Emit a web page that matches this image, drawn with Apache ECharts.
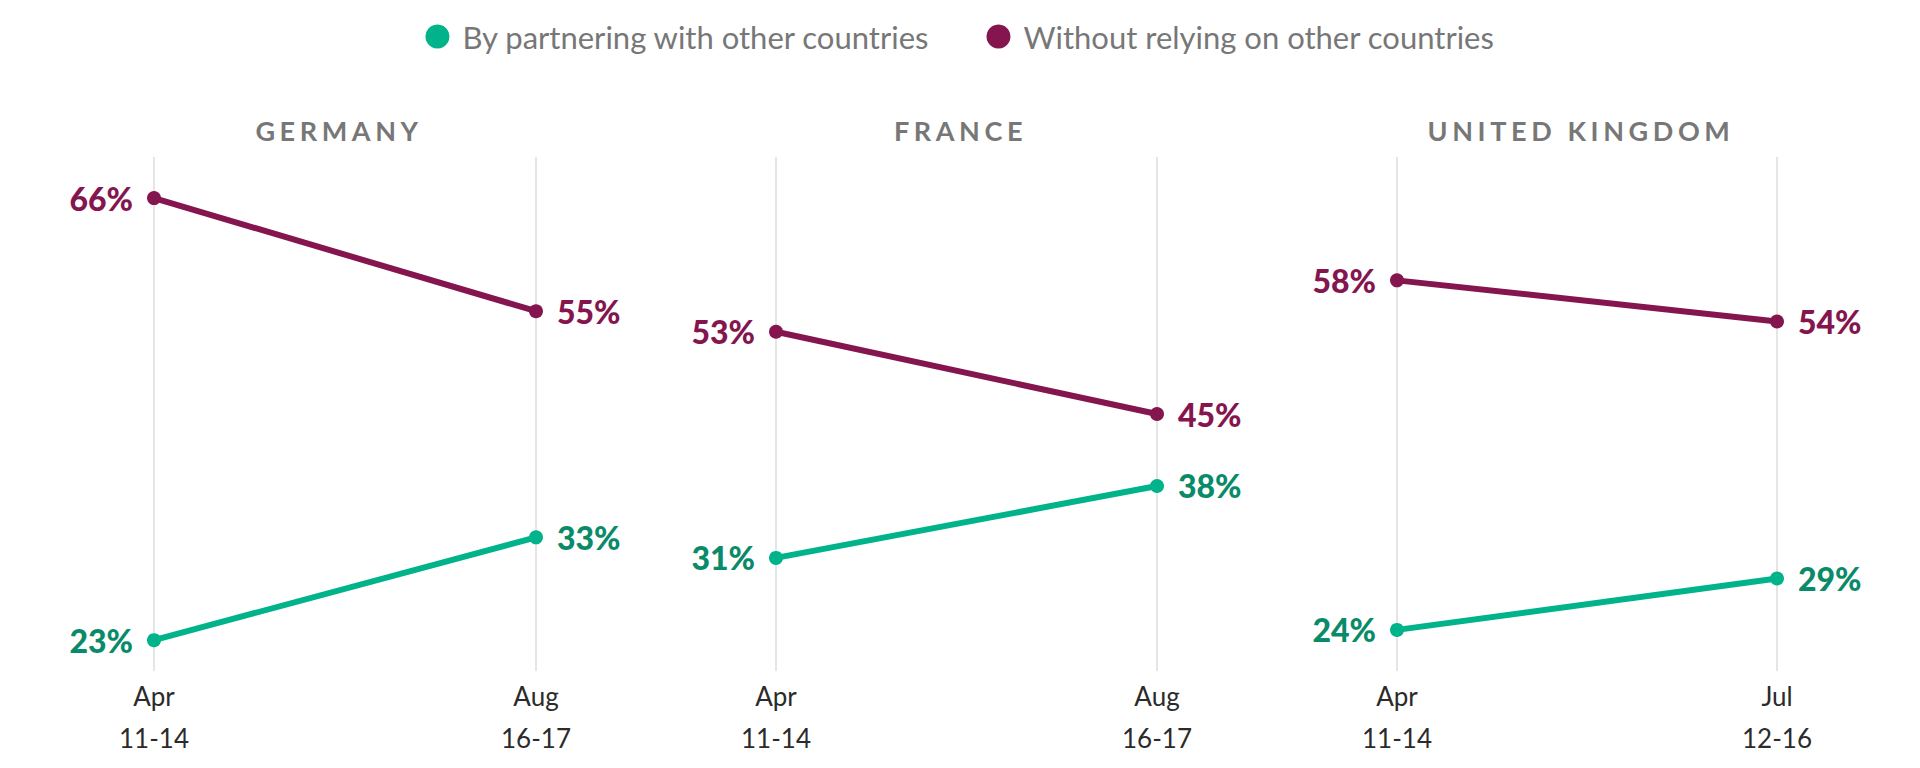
<!DOCTYPE html>
<html><head><meta charset="utf-8">
<script src="https://cdn.jsdelivr.net/npm/echarts@6/dist/echarts.min.js"></script>
<style>
html,body{margin:0;padding:0;background:#fff}
#c{width:1920px;height:768px}
#c text[style*="27px"]{letter-spacing:4.6px}
</style>
</head><body><div id="c"></div>
<script>
const countries = ['GERMANY', 'FRANCE', 'UNITED KINGDOM'];
const periods = [
  ['Apr\n11-14', 'Aug\n16-17'],
  ['Apr\n11-14', 'Aug\n16-17'],
  ['Apr\n11-14', 'Jul\n12-16']
];
const seriesNames = ['By partnering with other countries', 'Without relying on other countries'];
const partnering = [[23, 33], [31, 38], [24, 29]];
const withoutRelying = [[66, 55], [53, 45], [58, 54]];

const lineColors = ['#00B38A', '#84154E'];
const labelColors = ['#098A69', '#84154E'];
const panels = [
  { left: 154, width: 382 },
  { left: 776, width: 381 },
  { left: 1397, width: 380 }
];

const chart = echarts.init(document.getElementById('c'), null, { renderer: 'svg' });

const grids = [], xAxes = [], yAxes = [], titles = [], series = [];
panels.forEach((p, i) => {
  grids.push({ left: p.left, width: p.width, top: 157, bottom: 97 });
  xAxes.push({
    type: 'category', gridIndex: i, data: periods[i], boundaryGap: false,
    axisLine: { show: false }, axisTick: { show: false },
    splitLine: { show: true, lineStyle: { color: '#dddddd', width: 1.5 } },
    axisLabel: { color: '#2b2b2b', fontSize: 26, lineHeight: 42, margin: 4, fontFamily: 'Lato', interval: 0 }
  });
  yAxes.push({ type: 'value', gridIndex: i, min: 20, max: 70, show: false });
  titles.push({
    text: countries[i], left: p.left + p.width / 2 - 11, top: 112, textAlign: 'center',
    textStyle: { fontSize: 27, fontWeight: 'bold', color: '#777777', fontFamily: 'Lato' }
  });
  [partnering, withoutRelying].forEach((vals, s) => {
    series.push({
      name: seriesNames[s], type: 'line', xAxisIndex: i, yAxisIndex: i,
      symbol: 'circle', symbolSize: 14,
      lineStyle: { width: 6, color: lineColors[s] },
      itemStyle: { color: lineColors[s] },
      label: {
        show: true, formatter: '{c}%', fontSize: 32, fontWeight: 900,
        color: labelColors[s], fontFamily: 'Lato', distance: 14
      },
      data: vals[i].map((v, k) => ({ value: v, label: { position: k === 0 ? 'left' : 'right' } })),
      emphasis: { disabled: true }, animation: false
    });
  });
});

chart.setOption({
  animation: false,
  title: titles,
  legend: {
    top: 16, left: 'center', icon: 'circle', itemWidth: 24, itemHeight: 24, itemGap: 56,
    data: seriesNames,
    textStyle: { fontSize: 31, color: '#777777', fontFamily: 'Lato', padding: [0, 0, 0, 8] }
  },
  grid: grids, xAxis: xAxes, yAxis: yAxes, series: series
});
</script></body></html>
